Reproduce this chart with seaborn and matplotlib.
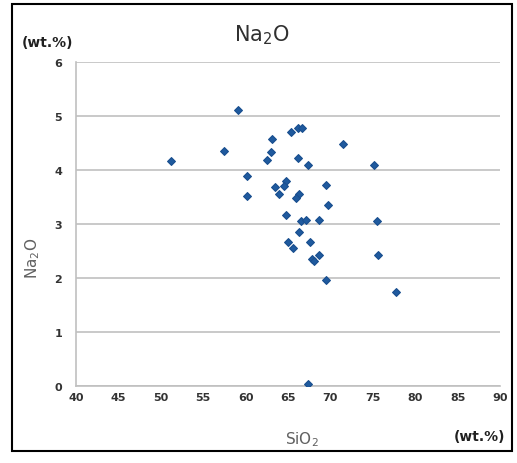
import matplotlib
matplotlib.use("Agg")
import matplotlib.pyplot as plt
import seaborn as sns
import pandas as pd
from matplotlib.patches import Rectangle

# SiO2 vs Na2O (wt.%)
sio2 = [51.2, 57.45, 59.07, 60.13, 60.2, 63.15, 63.0, 62.5, 63.5, 63.94,
        65.3, 66.2, 66.6, 71.5, 66.2, 67.3, 75.1, 64.76, 64.56, 69.48,
        66.3, 66.0, 69.7, 64.76, 66.5, 67.1, 68.6, 75.46, 66.26, 64.96,
        65.55, 67.6, 67.83, 68.07, 68.7, 75.6, 69.5, 77.77, 67.3]
na2o = [4.17, 4.35, 5.12, 3.89, 3.51, 4.57, 4.33, 4.18, 3.68, 3.55,
        4.70, 4.77, 4.77, 4.48, 4.23, 4.10, 4.10, 3.80, 3.71, 3.72,
        3.56, 3.49, 3.35, 3.17, 3.06, 3.07, 3.07, 3.06, 2.86, 2.66,
        2.56, 2.67, 2.35, 2.32, 2.43, 2.43, 1.97, 1.74, 0.04]
x_ticks = list(range(40, 95, 5))
y_ticks = list(range(0, 7))

df = pd.DataFrame({"SiO2": sio2, "Na2O": na2o})

sns.set_style("white")
fig = plt.figure(figsize=(5.17, 4.64), dpi=100)
ax = fig.add_axes([76 / 517, 1 - 387 / 464, 424 / 517, 324 / 464])

sns.scatterplot(data=df, x="SiO2", y="Na2O", ax=ax, marker="D", s=16,
                color="#1f5a9e", edgecolor="#1a4f8f", linewidth=0.8, zorder=3)

ax.set_xlim(40, 90)
ax.set_ylim(0, 6)
ax.set_xticks(x_ticks)
ax.set_yticks(y_ticks)
ax.yaxis.grid(True, color="#c0c0c0", linewidth=1.2)
ax.xaxis.grid(False)
for s in ["top", "right"]:
    ax.spines[s].set_visible(False)
for s in ["left", "bottom"]:
    ax.spines[s].set_color("#c0c0c0")
    ax.spines[s].set_linewidth(1.2)
ax.tick_params(axis="x", direction="inout", length=5, width=1, color="#c0c0c0",
               labelsize=8, labelcolor="#333333", pad=2)
ax.tick_params(axis="y", direction="out", length=4, width=1, color="#c0c0c0",
               labelsize=8, labelcolor="#333333", pad=6)
for lab in ax.get_xticklabels() + ax.get_yticklabels():
    lab.set_fontweight("bold")

ax.set_xlabel("")
ax.set_ylabel("")
fig.text(302 / 517, 1 - 440 / 464, r"SiO$_\mathregular{2}$", ha="center", va="center",
         fontsize=11, color="#606060")
fig.text(33 / 517, 1 - 258 / 464, r"Na$_\mathregular{2}$O", ha="center", va="center",
         fontsize=11, color="#606060", rotation=90)
fig.text(262 / 517, 1 - 35 / 464, r"Na$_\mathregular{2}$O", ha="center", va="center",
         fontsize=15, color="#303030")
fig.text(22 / 517, 1 - 43 / 464, "(wt.%)", ha="left", va="center",
         fontsize=10, fontweight="bold", color="#202020")
fig.text(505 / 517, 1 - 437 / 464, "(wt.%)", ha="right", va="center",
         fontsize=10, fontweight="bold", color="#202020")

fig.patches.append(Rectangle((12 / 517, 1 - 452 / 464), 500 / 517, 447 / 464,
                             transform=fig.transFigure, fill=False,
                             edgecolor="black", linewidth=1.5))

fig.savefig("out.png", dpi=100)
